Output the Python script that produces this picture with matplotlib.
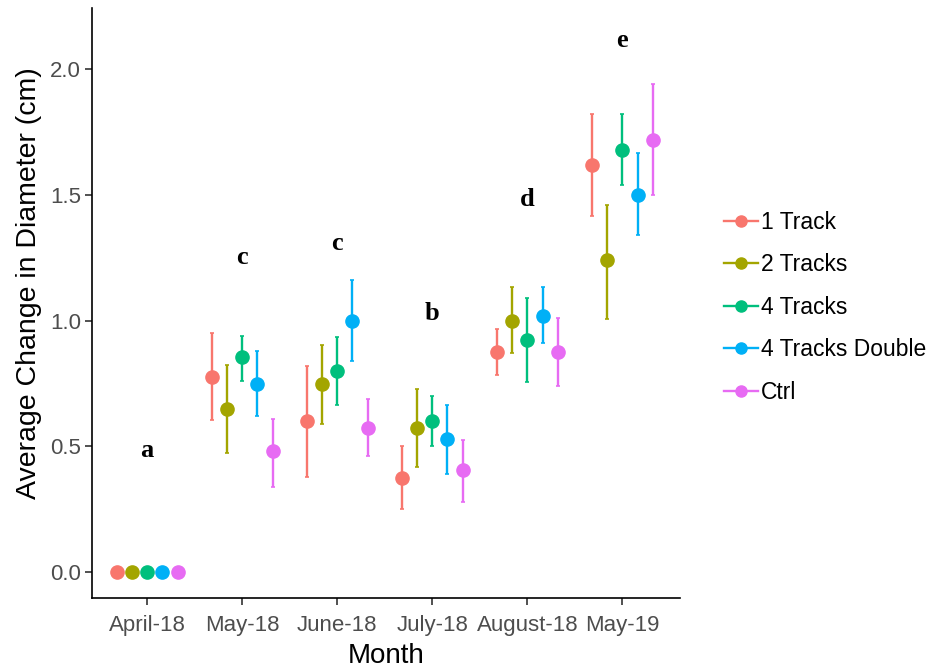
import numpy as np
import matplotlib.pyplot as plt
from matplotlib.lines import Line2D

plt.rcParams["font.family"] = ["Liberation Sans", "DejaVu Sans"]

months = ["April-18", "May-18", "June-18", "July-18", "August-18", "May-19"]
groups = ["1 Track", "2 Tracks", "4 Tracks", "4 Tracks Double", "Ctrl"]
colors = ["#F8766D", "#A3A500", "#00BF7D", "#00B0F6", "#E76BF3"]

# mean per group, one list per group across months
means = {
    "1 Track":         [0.0, 0.775, 0.60, 0.375, 0.875, 1.62],
    "2 Tracks":        [0.0, 0.65, 0.75, 0.575, 1.00, 1.24],
    "4 Tracks":        [0.0, 0.855, 0.80, 0.60, 0.925, 1.68],
    "4 Tracks Double": [0.0, 0.75, 1.00, 0.53, 1.02, 1.50],
    "Ctrl":            [0.0, 0.48, 0.575, 0.405, 0.875, 1.72],
}
lower = {
    "1 Track":         [0.0, 0.605, 0.38, 0.25, 0.785, 1.415],
    "2 Tracks":        [0.0, 0.475, 0.59, 0.42, 0.87, 1.005],
    "4 Tracks":        [0.0, 0.76, 0.665, 0.50, 0.755, 1.54],
    "4 Tracks Double": [0.0, 0.62, 0.84, 0.39, 0.91, 1.34],
    "Ctrl":            [0.0, 0.34, 0.46, 0.28, 0.74, 1.50],
}
upper = {
    "1 Track":         [0.0, 0.95, 0.82, 0.50, 0.965, 1.82],
    "2 Tracks":        [0.0, 0.825, 0.905, 0.73, 1.135, 1.46],
    "4 Tracks":        [0.0, 0.94, 0.935, 0.70, 1.09, 1.82],
    "4 Tracks Double": [0.0, 0.88, 1.16, 0.665, 1.135, 1.665],
    "Ctrl":            [0.0, 0.61, 0.69, 0.525, 1.01, 1.94],
}
letters = ["a", "c", "c", "b", "d", "e"]
letter_y = [0.485, 1.25, 1.305, 1.03, 1.48, 2.115]

fig = plt.figure(figsize=(9.31, 6.69), dpi=100)
ax = fig.add_axes([0.0988, 0.106, 0.632, 0.882])

x = np.arange(1, len(months) + 1)
offsets = np.linspace(-0.32, 0.32, len(groups))

for g, c, off in zip(groups, colors, offsets):
    m = np.array(means[g])
    lo = m - np.array(lower[g])
    hi = np.array(upper[g]) - m
    ax.errorbar(x + off, m, yerr=[lo, hi], fmt="o", color=c, ms=9.5,
                elinewidth=1.7, capsize=1.5, capthick=1.2)

for xi, t, ty in zip(x, letters, letter_y):
    ax.text(xi, ty, t, ha="center", va="center", fontsize=19, fontweight="bold",
            family=["Liberation Serif", "DejaVu Serif"])

ax.set_xlim(0.42, 6.61)
ax.set_ylim(-0.103, 2.243)
ax.set_xticks(x)
ax.set_xticklabels(months)
ax.set_yticks([0.0, 0.5, 1.0, 1.5, 2.0])
ax.set_yticklabels(["0.0", "0.5", "1.0", "1.5", "2.0"])
ax.tick_params(labelsize=16, labelcolor="#4D4D4D", color="#333333", length=5,
               width=1.2)
ax.tick_params(axis="x", pad=7)
ax.tick_params(axis="y", pad=3)
ax.spines["top"].set_visible(False)
ax.spines["right"].set_visible(False)
ax.spines["left"].set_linewidth(1.2)
ax.spines["bottom"].set_linewidth(1.2)
ax.set_xlabel("Month", fontsize=20, labelpad=5)
ax.set_ylabel("Average Change in Diameter (cm)", fontsize=20.5)
ax.yaxis.set_label_coords(-0.085, 0.534)

handles = [Line2D([0], [0], color=c, marker="o", ms=8, lw=1.7) for c in colors]
fig.legend(handles, groups, loc="center left", bbox_to_anchor=(0.755, 0.541),
           frameon=False, fontsize=16.5, handlelength=1.5, labelspacing=0.85,
           handletextpad=0.15)

fig.savefig("out.png", dpi=100)
